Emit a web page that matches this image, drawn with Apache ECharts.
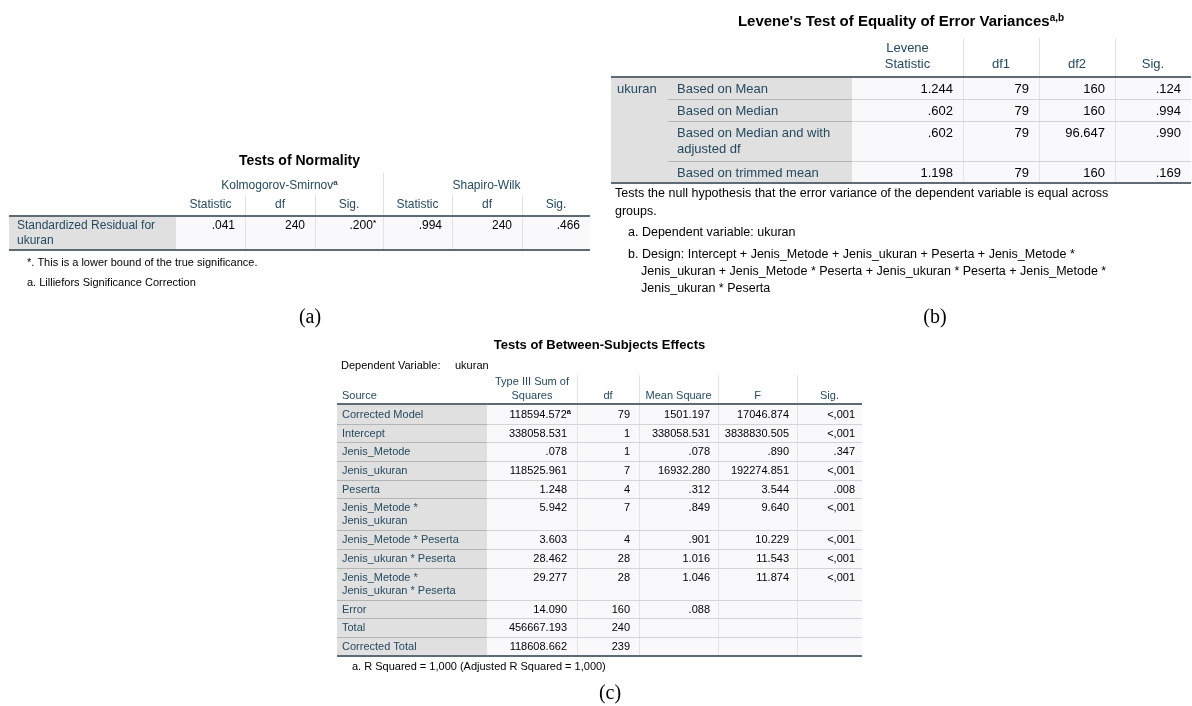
<!DOCTYPE html>
<html><head><meta charset="utf-8">
<script src="https://cdn.jsdelivr.net/npm/echarts@6/dist/echarts.min.js"></script>
<style>html,body{margin:0;padding:0;background:#fff}#c{width:1192px;height:706px}</style>
</head><body><div id="c"></div>
<script>
// ---------------- DATA ----------------
const normTitle = 'Tests of Normality';
const normGroups = ['Kolmogorov-Smirnov', 'Shapiro-Wilk'];
const normGroupSup = ['a', ''];
const normSubHeads = ['Statistic', 'df', 'Sig.', 'Statistic', 'df', 'Sig.'];
const normRowLabel = ['Standardized Residual for', 'ukuran'];
const normValues = ['.041', '240', '.200', '.994', '240', '.466'];
const normValueSup = ['', '', '*', '', '', ''];
const normNotes = ['*. This is a lower bound of the true significance.', 'a. Lilliefors Significance Correction'];

const leveneTitle = "Levene's Test of Equality of Error Variances";
const leveneTitleSup = 'a,b';
const leveneHeads = [['Levene', 'Statistic'], ['df1'], ['df2'], ['Sig.']];
const leveneVar = 'ukuran';
const leveneRows = [['Based on Mean'], ['Based on Median'], ['Based on Median and with', 'adjusted df'], ['Based on trimmed mean']];
const leveneStat = ['1.244', '.602', '.602', '1.198'];
const leveneDf1 = ['79', '79', '79', '79'];
const leveneDf2 = ['160', '160', '96.647', '160'];
const leveneSig = ['.124', '.994', '.990', '.169'];
const leveneNotes = [
  'Tests the null hypothesis that the error variance of the dependent variable is equal across',
  'groups.',
  'a. Dependent variable: ukuran',
  'b. Design: Intercept + Jenis_Metode + Jenis_ukuran + Peserta + Jenis_Metode *',
  'Jenis_ukuran + Jenis_Metode * Peserta + Jenis_ukuran * Peserta + Jenis_Metode *',
  'Jenis_ukuran * Peserta'
];

const besTitle = 'Tests of Between-Subjects Effects';
const besDepVar = ['Dependent Variable:', 'ukuran'];
const besHeads = [['Source'], ['Type III Sum of', 'Squares'], ['df'], ['Mean Square'], ['F'], ['Sig.']];
const besSources = [['Corrected Model'], ['Intercept'], ['Jenis_Metode'], ['Jenis_ukuran'], ['Peserta'],
  ['Jenis_Metode *', 'Jenis_ukuran'], ['Jenis_Metode * Peserta'], ['Jenis_ukuran * Peserta'],
  ['Jenis_Metode *', 'Jenis_ukuran * Peserta'], ['Error'], ['Total'], ['Corrected Total']];
const besSS = ['118594.572', '338058.531', '.078', '118525.961', '1.248', '5.942', '3.603', '28.462', '29.277', '14.090', '456667.193', '118608.662'];
const besSSSup = ['a', '', '', '', '', '', '', '', '', '', '', ''];
const besDf = ['79', '1', '1', '7', '4', '7', '4', '28', '28', '160', '240', '239'];
const besMS = ['1501.197', '338058.531', '.078', '16932.280', '.312', '.849', '.901', '1.016', '1.046', '.088', '', ''];
const besF = ['17046.874', '3838830.505', '.890', '192274.851', '3.544', '9.640', '10.229', '11.543', '11.874', '', '', ''];
const besSig = ['<,001', '<,001', '.347', '<,001', '.008', '<,001', '<,001', '<,001', '<,001', '', '', ''];
const besNote = 'a. R Squared = 1,000 (Adjusted R Squared = 1,000)';

const panelLabels = ['(a)', '(b)', '(c)'];

// ---------------- STYLE / LAYOUT ----------------
const FONT = '"Liberation Sans", Arial, sans-serif';
const SERIF = '"Liberation Serif", "Times New Roman", serif';
const HEAD = '#264a60', VAL = '#010205', GREY = '#e0e0e0', CELL = '#f9f9fb';
const THICK = '#5e6b75', VLINE = '#e2e2e2', RLINE_L = '#b4b4b4', RLINE_D = '#d4d4d4';

const A = { cols: [9, 176, 245, 315, 383, 452, 522, 590], titleY: 161, groupTop: 173, groupY: 186, subTop: 195,
  headY: 205, top: 216, bottom: 250, lineY: [226, 241], labelX: 17, pad: 10, fs: 12, titleFs: 14,
  noteX: 27, noteY: [263, 283], noteFs: 11, panel: [310, 318] };
const B = { cols: [611, 668, 852, 963, 1039, 1115, 1191], titleY: 22, vTop: 38, headY: [48, 64],
  rows: [77, 99, 121, 161, 183], varX: 617, labelX: 677, pad: 10, fs: 13, titleFs: 15,
  noteX: [615, 615, 628, 628, 641, 641], noteY: [194, 212, 233, 255, 272, 289], noteFs: 12.5, panel: [935, 318] };
const C = { cols: [337, 487, 577, 639, 718, 797, 862], titleY: 345, depY: 366, depX: [341, 455], vTop: 375,
  headY: [382, 396], top: 404, rowH: [19.5, 18.7, 18.7, 18.7, 18.7, 32, 18.7, 18.7, 32, 18.7, 18.7, 18.7],
  labelX: 342, pads: [10, 9, 8, 8, 7], fs: 11, titleFs: 13, noteX: 352, noteY: 667, noteFs: 11, panel: [610, 694] };

// ---------------- HELPERS ----------------
const els = [];
function font(size, weight, fam) { return (weight || 'normal') + ' ' + size + 'px ' + (fam || FONT); }
function txt(x, y, s, size, color, align, weight, fam) {
  els.push({ type: 'text', silent: true, z: 10, style: { text: s, x: x, y: y, fill: color,
    font: font(size, weight, fam), textAlign: align || 'left', textVerticalAlign: 'middle' } });
}
function richTxt(x, y, main, sup, size, supSize, color, align, weight) {
  els.push({ type: 'text', silent: true, z: 10, style: {
    text: '{m|' + main + '}' + (sup ? '{s|' + sup + '}' : ''), x: x, y: y,
    textAlign: align || 'left', textVerticalAlign: 'middle',
    rich: {
      m: { font: font(size, weight), fill: color, lineHeight: size + 3 },
      s: { font: font(supSize, 'bold'), fill: color, lineHeight: supSize + 2, verticalAlign: 'top' }
    } } });
}
function rect(x, y, w, h, fill) {
  els.push({ type: 'rect', silent: true, z: 1, shape: { x: x, y: y, width: w, height: h }, style: { fill: fill } });
}
function hline(x1, x2, y, color, w) {
  const yy = (w % 2 === 1) ? Math.round(y) + 0.5 : Math.round(y);
  els.push({ type: 'line', silent: true, z: w > 1 ? 6 : 5, shape: { x1: x1, y1: yy, x2: x2, y2: yy }, style: { stroke: color, lineWidth: w } });
}
function vline(x, y1, y2, color) {
  const xx = Math.round(x) + 0.5;
  els.push({ type: 'line', silent: true, z: 4, shape: { x1: xx, y1: y1, x2: xx, y2: y2 }, style: { stroke: color, lineWidth: 1 } });
}
const mid = (a, b) => (a + b) / 2;

// ---------------- TABLE (a) ----------------
(function () {
  const c = A.cols;
  txt(mid(c[0], c[7]), A.titleY, normTitle, A.titleFs, '#000', 'center', 'bold');
  rect(c[0], A.top, c[1] - c[0], A.bottom - A.top, GREY);
  rect(c[1], A.top, c[7] - c[1], A.bottom - A.top, CELL);
  vline(c[4], A.groupTop, A.bottom, VLINE);
  [2, 3, 5, 6].forEach(i => vline(c[i], A.subTop, A.bottom, VLINE));
  hline(c[0], c[7], A.top, THICK, 2);
  hline(c[0], c[7], A.bottom, THICK, 2);
  normGroups.forEach((g, i) => richTxt(mid(c[1 + 3 * i], c[4 + 3 * i]), A.groupY, g, normGroupSup[i], A.fs, 8, HEAD, 'center'));
  normSubHeads.forEach((h, i) => txt(mid(c[i + 1], c[i + 2]), A.headY, h, A.fs, HEAD, 'center'));
  normRowLabel.forEach((l, i) => txt(A.labelX, A.lineY[i], l, A.fs, HEAD, 'left'));
  normValues.forEach((v, i) => {
    if (normValueSup[i]) richTxt(c[i + 2] - A.pad + 3, A.lineY[0], v, normValueSup[i], A.fs, 8, VAL, 'right');
    else txt(c[i + 2] - A.pad, A.lineY[0], v, A.fs, VAL, 'right');
  });
  normNotes.forEach((n, i) => txt(A.noteX, A.noteY[i], n, A.noteFs, VAL, 'left'));
  txt(A.panel[0], A.panel[1], panelLabels[0], 20, '#000', 'center', 'normal', SERIF);
})();

// ---------------- TABLE (b) ----------------
(function () {
  const c = B.cols, r = B.rows;
  const top = r[0], bottom = r[r.length - 1];
  richTxt(mid(c[0], c[6]), B.titleY, leveneTitle, leveneTitleSup, B.titleFs, 10, '#000', 'center', 'bold');
  rect(c[0], top, c[2] - c[0], bottom - top, GREY);
  rect(c[2], top, c[6] - c[2], bottom - top, CELL);
  [3, 4, 5].forEach(i => vline(c[i], B.vTop, bottom, VLINE));
  for (let k = 1; k < r.length - 1; k++) {
    hline(c[1], c[2], r[k], RLINE_L, 1);
    hline(c[2], c[6], r[k], RLINE_D, 1);
  }
  hline(c[0], c[6], top, THICK, 2);
  hline(c[0], c[6], bottom, THICK, 2);
  leveneHeads.forEach((h, i) => {
    const x = mid(c[i + 2], c[i + 3]);
    const n = h.length;
    h.forEach((line, j) => txt(x, B.headY[2 - n + j], line, B.fs, HEAD, 'center'));
  });
  txt(B.varX, r[0] + 12, leveneVar, B.fs, HEAD, 'left');
  const cols = [leveneStat, leveneDf1, leveneDf2, leveneSig];
  leveneRows.forEach((row, k) => {
    const y = r[k] + 12;
    row.forEach((line, j) => txt(B.labelX, y + j * 16, line, B.fs, HEAD, 'left'));
    cols.forEach((arr, i) => txt(c[i + 3] - B.pad, y, arr[k], B.fs, VAL, 'right'));
  });
  leveneNotes.forEach((n, i) => txt(B.noteX[i], B.noteY[i], n, B.noteFs, VAL, 'left'));
  txt(B.panel[0], B.panel[1], panelLabels[1], 20, '#000', 'center', 'normal', SERIF);
})();

// ---------------- TABLE (c) ----------------
(function () {
  const c = C.cols;
  const bounds = [C.top];
  C.rowH.forEach(h => bounds.push(bounds[bounds.length - 1] + h));
  const bottom = bounds[bounds.length - 1];
  txt(mid(c[0], c[6]), C.titleY, besTitle, C.titleFs, '#000', 'center', 'bold');
  txt(C.depX[0], C.depY, besDepVar[0], C.fs, VAL, 'left');
  txt(C.depX[1], C.depY, besDepVar[1], C.fs, VAL, 'left');
  rect(c[0], C.top, c[1] - c[0], bottom - C.top, GREY);
  rect(c[1], C.top, c[6] - c[1], bottom - C.top, CELL);
  [2, 3, 4, 5].forEach(i => vline(c[i], C.vTop, bottom, VLINE));
  for (let k = 1; k < bounds.length - 1; k++) {
    hline(c[0], c[1], bounds[k], RLINE_L, 1);
    hline(c[1], c[6], bounds[k], RLINE_D, 1);
  }
  hline(c[0], c[6], C.top, THICK, 2);
  hline(c[0], c[6], bottom, THICK, 2);
  besHeads.forEach((h, i) => {
    const n = h.length;
    h.forEach((line, j) => {
      if (i === 0) txt(C.labelX, C.headY[2 - n + j], line, C.fs, HEAD, 'left');
      else txt(mid(c[i], c[i + 1]), C.headY[2 - n + j], line, C.fs, HEAD, 'center');
    });
  });
  const cols = [besSS, besDf, besMS, besF, besSig];
  besSources.forEach((src, k) => {
    const y = bounds[k] + (k === 0 ? 11 : 10);
    src.forEach((line, j) => txt(C.labelX, y + j * 13, line, C.fs, HEAD, 'left'));
    cols.forEach((arr, i) => {
      if (!arr[k]) return;
      const xr = c[i + 2] - C.pads[i];
      if (i === 0 && besSSSup[k]) richTxt(xr + 4, y, arr[k], besSSSup[k], C.fs, 7.5, VAL, 'right');
      else txt(xr, y, arr[k], C.fs, VAL, 'right');
    });
  });
  txt(C.noteX, C.noteY, besNote, C.noteFs, VAL, 'left');
  txt(C.panel[0], C.panel[1], panelLabels[2], 20, '#000', 'center', 'normal', SERIF);
})();

const chart = echarts.init(document.getElementById('c'), null, { renderer: 'canvas' });
chart.setOption({ backgroundColor: '#ffffff', animation: false, graphic: { elements: els } });
</script>
</body></html>
